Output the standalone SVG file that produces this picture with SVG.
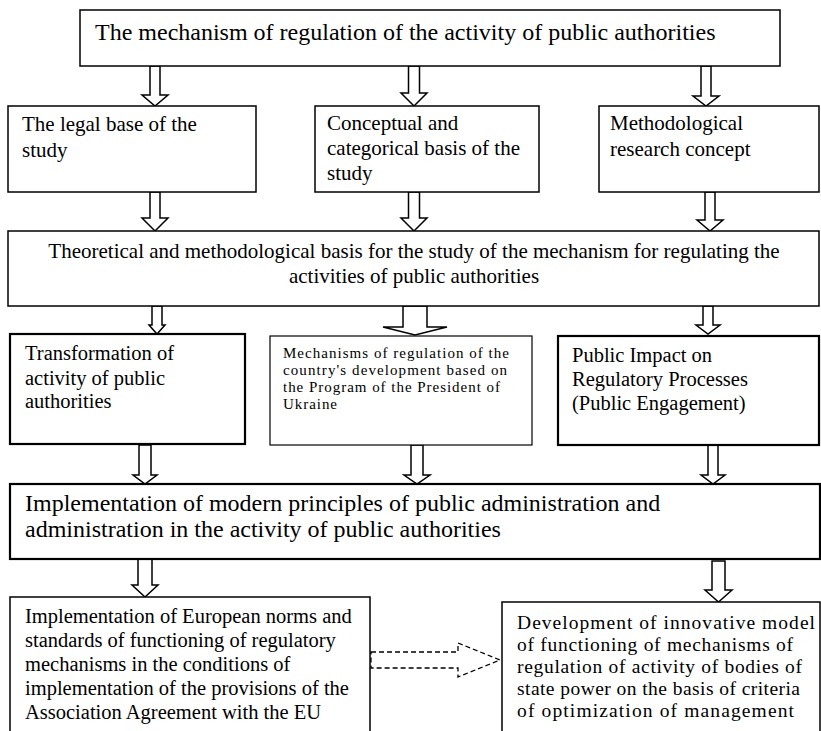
<svg xmlns="http://www.w3.org/2000/svg" width="821" height="731" viewBox="0 0 821 731">
<style>
text{font-family:"Liberation Serif","Times New Roman",serif;fill:#000}
.box{fill:#fff;stroke:#000;stroke-width:1.5}
.thin{stroke-width:1.2}
.thick{stroke-width:2.2}
.arr{fill:#fff;stroke:#000;stroke-width:1.5;stroke-linejoin:miter}
.dash{fill:none;stroke:#000;stroke-width:1.3;stroke-dasharray:5,3}
.t24{font-size:24px}.t21{font-size:21px}.t20{font-size:20.5px}.t15{font-size:15px}.t19{font-size:19.5px}
</style>
<rect width="821" height="731" fill="#fff"/>
<g id="connectors">
<polygon class="arr" points="150,66 160,66 160,95 168,95 155,106 142,95 150,95"/>
<polygon class="arr" points="408.5,66 419.5,66 419.5,93 427,93 414,106 401,93 408.5,93"/>
<polygon class="arr" points="701,66 711,66 711,96 719,96 706,106 693,96 701,96"/>
<polygon class="arr" points="150,192 160,192 160,218 168,218 155,231 142,218 150,218"/>
<polygon class="arr" points="408.5,192 419.5,192 419.5,218 427,218 414,231 401,218 408.5,218"/>
<polygon class="arr" points="705,192 715,192 715,220 723,220 710,231 697,220 705,220"/>
<polygon class="arr" points="152,306 162,306 162,325 165,325 157,334 149,325 152,325"/>
<polygon class="arr" points="403,306 427,306 427,327 447,327 415,335 383,327 403,327"/>
<polygon class="arr" points="703,306 713,306 713,325 720,325 708,334 696,325 703,325"/>
<polygon class="arr" points="139,445 151,445 151,475 157,475 145,484 133,475 139,475"/>
<polygon class="arr" points="411,445 423,445 423,475 430,475 417,484 404,475 411,475"/>
<polygon class="arr" points="708,445 718,445 718,475 725,475 713,484 701,475 708,475"/>
<polygon class="arr" points="138,559 152,559 152,585 158,585 145,597 132,585 138,585"/>
<polygon class="arr" points="712,561 725,561 725,590 732,590 718.5,602 705,590 712,590"/>
<polygon class="dash" points="371,652 458,652 458,643 500,660 458,677 458,668 371,668"/>
</g>
<g id="n0"><rect class="box" x="80" y="10" width="700" height="56"/>
<text class="t24" x="95" y="40">The mechanism of regulation of the activity of public authorities</text></g>
<g id="n1"><rect class="box" x="8" y="106" width="248" height="86"/>
<text class="t21" x="22" y="131">The legal base of the</text><text class="t21" x="22" y="157">study</text></g>
<g id="n2"><rect class="box" x="315" y="106" width="224" height="86"/>
<text class="t21" x="327" y="130">Conceptual and</text><text class="t21" x="327" y="155">categorical basis of the</text><text class="t21" x="327" y="180">study</text></g>
<g id="n3"><rect class="box" x="599" y="106" width="220" height="86"/>
<text class="t21" x="610" y="130">Methodological</text><text class="t21" x="610" y="156">research concept</text></g>
<g id="n4"><rect class="box" x="8" y="231" width="811" height="75"/>
<text class="t21" x="414" y="258" text-anchor="middle">Theoretical and methodological basis for the study of the mechanism for regulating the</text>
<text class="t21" x="414" y="283" text-anchor="middle">activities of public authorities</text></g>
<g id="n5"><rect class="box thick" x="10" y="334" width="235" height="110"/>
<text class="t20" x="25" y="360">Transformation of</text><text class="t20" x="25" y="385">activity of public</text><text class="t20" x="25" y="408">authorities</text></g>
<g id="n6"><rect class="box thin" x="270" y="336" width="262" height="109"/>
<text class="t15" x="283" y="358" textLength="226">Mechanisms of regulation of the</text><text class="t15" x="283" y="375" textLength="224">country's development based on</text><text class="t15" x="283" y="392" textLength="217">the Program of the President of</text><text class="t15" x="283" y="409" textLength="54">Ukraine</text></g>
<g id="n7"><rect class="box thick" x="558" y="336" width="261" height="109"/>
<text class="t20" x="572" y="362">Public Impact on</text><text class="t20" x="572" y="386">Regulatory Processes</text><text class="t20" x="572" y="410">(Public Engagement)</text></g>
<g id="n8"><rect class="box thick" x="10" y="484" width="810" height="75"/>
<text class="t24" x="25" y="511">Implementation of modern principles of public administration and</text>
<text class="t24" x="25" y="537">administration in the activity of public authorities</text></g>
<g id="n9"><rect class="box" x="10" y="597" width="360" height="160"/>
<text class="t20" x="25" y="623">Implementation of European norms and</text><text class="t20" x="25" y="647">standards of functioning of regulatory</text><text class="t20" x="25" y="671">mechanisms in the conditions of</text><text class="t20" x="25" y="695">implementation of the provisions of the</text><text class="t20" x="25" y="719">Association Agreement with the EU</text></g>
<g id="n10"><rect class="box" x="502" y="602" width="318" height="160"/>
<text class="t19" x="517" y="629" textLength="298">Development of innovative model</text><text class="t19" x="517" y="651" textLength="276">of functioning of mechanisms of</text><text class="t19" x="517" y="673" textLength="285">regulation of activity of bodies of</text><text class="t19" x="517" y="695" textLength="283">state power on the basis of criteria</text><text class="t19" x="517" y="717" textLength="277">of optimization of management</text></g>
</svg>
